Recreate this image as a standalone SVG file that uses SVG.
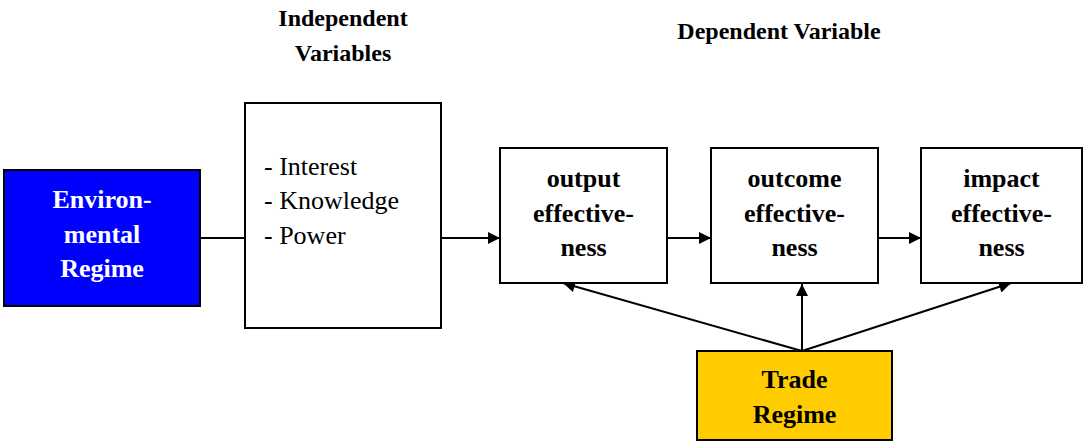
<svg xmlns="http://www.w3.org/2000/svg" width="1089" height="442" viewBox="0 0 1089 442" font-family="'Liberation Serif', 'DejaVu Serif', serif">
<defs>
<marker id="ah" viewBox="0 0 10 10" refX="10" refY="5" markerWidth="16" markerHeight="12" markerUnits="userSpaceOnUse" orient="auto"><path d="M0,0 L10,5 L0,10 z" fill="#000"/></marker>
<style>
.box{fill:#fff;stroke:#000;stroke-width:2}
.t{font-size:26px;fill:#000}
.b{font-weight:bold;text-anchor:middle}
.w{fill:#fff}
.h{font-size:24px;font-weight:bold;text-anchor:middle}
.c{stroke:#000;stroke-width:2;fill:none}
</style>
</defs>
<g id="headers">
<text class="h" x="343" y="26">Independent</text>
<text class="h" x="343" y="61">Variables</text>
<text class="h" x="779" y="39">Dependent Variable</text>
</g>
<g id="connectors">
<line class="c" x1="200" y1="238" x2="245" y2="238"/>
<line class="c" x1="441" y1="238" x2="500" y2="238" marker-end="url(#ah)"/>
<line class="c" x1="667" y1="238" x2="711" y2="238" marker-end="url(#ah)"/>
<line class="c" x1="878" y1="238" x2="921" y2="238" marker-end="url(#ah)"/>
<line class="c" x1="802" y1="351" x2="563" y2="283" marker-end="url(#ah)"/>
<line class="c" x1="802" y1="351" x2="802" y2="284" marker-end="url(#ah)"/>
<line class="c" x1="802" y1="351" x2="1011" y2="283" marker-end="url(#ah)"/>
</g>
<g id="env">
<rect x="4" y="170" width="196" height="136" fill="#0000FF" stroke="#000" stroke-width="2"/>
<text class="t b w" x="102" y="208">Environ-</text>
<text class="t b w" x="102" y="243">mental</text>
<text class="t b w" x="102" y="277">Regime</text>
</g>
<g id="indep">
<rect class="box" x="245" y="103" width="196" height="225"/>
<text class="t" x="264" y="175">- Interest</text>
<text class="t" x="264" y="209">- Knowledge</text>
<text class="t" x="264" y="244">- Power</text>
</g>
<g id="output">
<rect class="box" x="500" y="148" width="167" height="135"/>
<text class="t b" x="583.5" y="187">output</text>
<text class="t b" x="583.5" y="222">effective-</text>
<text class="t b" x="583.5" y="256">ness</text>
</g>
<g id="outcome">
<rect class="box" x="711" y="148" width="167" height="135"/>
<text class="t b" x="794.5" y="187">outcome</text>
<text class="t b" x="794.5" y="222">effective-</text>
<text class="t b" x="794.5" y="256">ness</text>
</g>
<g id="impact">
<rect class="box" x="921" y="148" width="161" height="135"/>
<text class="t b" x="1001.5" y="187">impact</text>
<text class="t b" x="1001.5" y="222">effective-</text>
<text class="t b" x="1001.5" y="256">ness</text>
</g>
<g id="trade">
<rect x="697" y="351" width="195" height="89" fill="#FFCC00" stroke="#000" stroke-width="2"/>
<text class="t b" x="794.5" y="388">Trade</text>
<text class="t b" x="794.5" y="423">Regime</text>
</g>
</svg>
